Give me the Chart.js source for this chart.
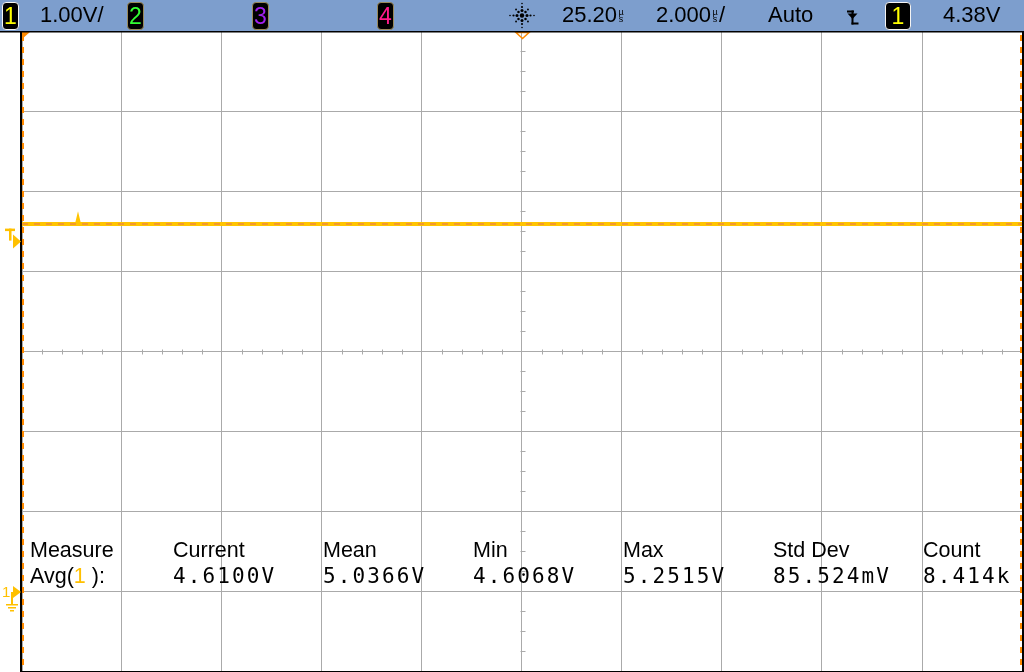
<!DOCTYPE html>
<html>
<head>
<meta charset="utf-8">
<script src="https://cdn.jsdelivr.net/npm/chart.js@4"></script>
<style>
  html, body { margin:0; padding:0; background:#fff; }
  #wrap { position:relative; width:1024px; height:672px; overflow:hidden; }
  canvas { position:absolute; left:0; top:0; }
  .t { position:absolute; white-space:pre; color:#000; }
  .bar { font-family:"Liberation Sans", Arial, sans-serif; font-size:22px; line-height:22px; top:4px; }
  .lab { font-family:"Liberation Sans", Arial, sans-serif; font-size:21.5px; line-height:21px; top:540px; }
  .val { font-family:"DejaVu Sans Mono", monospace; font-size:21px; line-height:21px; top:566px; letter-spacing:2.1px; }
  .box { position:absolute; top:2px; height:26px; background:#000; border-radius:4px; text-align:center;
         font-family:"Liberation Sans", Arial, sans-serif; font-size:23px; line-height:27px; }
  .us { position:absolute; font-family:"Liberation Sans", Arial, sans-serif; font-size:9px; line-height:8px; color:#000; text-align:center; width:8px; }
  .mk { position:absolute; font-family:"Liberation Sans", Arial, sans-serif; font-size:15px; line-height:15px; color:#ffc000; }
</style>
</head>
<body>
<div id="wrap">
  <canvas id="c" width="1024" height="672"></canvas>
</div>
<script>
// ---- data ----
const TIME_US = [15.2, 16.30, 16.32, 16.34, 35.2];       // time (µs)
const CH1_V   = [4.5875, 4.5875, 4.64, 4.5875, 4.5875];  // channel 1 voltage (V)
const X_GRID_US = [15.2, 17.2, 19.2, 21.2, 23.2, 25.2, 27.2, 29.2, 31.2, 33.2, 35.2];
const Y_GRID_V = [-1, 0, 1, 2, 3, 4, 5, 6, 7];
const TRIG_LEVEL_V = 4.38;
const GROUND_V = 0;
const CENTER_TIME_US = 25.2;
const CENTER_V = 3;
const MEAS_LABELS = ["Current", "Mean", "Min", "Max", "Std Dev", "Count"];
const MEAS_VALUES = ["4.6100V", "5.0366V", "4.6068V", "5.2515V", "85.524mV", "8.414k"];
const BAR_SCALE = "1.00V/";
const BAR_DELAY = "25.20";
const BAR_TIMEDIV = "2.000";
const BAR_MODE = "Auto";
const BAR_TRIG = "4.38V";

// ---- html text ----
const wrap = document.getElementById('wrap');
function addDiv(cls, txt, x, y, color, extra) {
  const d = document.createElement('div');
  d.className = cls;
  d.textContent = txt;
  d.style.left = x + 'px';
  if (y !== null) d.style.top = y + 'px';
  if (color) d.style.color = color;
  if (extra) Object.assign(d.style, extra);
  wrap.appendChild(d);
  return d;
}

// ---- chart ----
const ctx = document.getElementById('c').getContext('2d');

const decor = {
  id: 'decor',
  beforeDraw(chart) {
    const c = chart.ctx;
    c.save();
    c.fillStyle = '#fff';
    c.fillRect(0, 0, chart.width, chart.height);
    c.restore();
  },
  afterDatasetsDraw(chart) {
    const c = chart.ctx;
    const xs = chart.scales.x, ys = chart.scales.y;
    const ca = chart.chartArea;
    c.save();
    // center axis minor ticks
    c.strokeStyle = '#aaaaaa';
    c.lineWidth = 1;
    const yc = Math.round(ys.getPixelForValue(CENTER_V)) + 0.5;
    const xc = Math.round(xs.getPixelForValue(CENTER_TIME_US)) + 0.5;
    c.beginPath();
    for (let i = 0; i < X_GRID_US.length - 1; i++) {
      for (let k = 1; k < 5; k++) {
        const t = X_GRID_US[i] + k * 0.4;
        const px = Math.round(xs.getPixelForValue(t)) + 0.5;
        c.moveTo(px, yc - 2); c.lineTo(px, yc + 3);
      }
    }
    for (let i = 0; i < Y_GRID_V.length - 1; i++) {
      for (let k = 1; k < 4; k++) {
        const v = Y_GRID_V[i] + k * 0.25;
        const py = Math.round(ys.getPixelForValue(v)) + 0.5;
        c.moveTo(xc - 2, py); c.lineTo(xc + 3, py);
      }
    }
    c.stroke();

    // orange dashed edge lines
    c.strokeStyle = '#ff8a00';
    c.lineWidth = 2;
    c.setLineDash([6, 6]);
    c.beginPath();
    c.moveTo(ca.left + 1, ca.top + 4); c.lineTo(ca.left + 1, ca.bottom);
    c.moveTo(ca.right - 1, ca.top + 4); c.lineTo(ca.right - 1, ca.bottom);
    c.stroke();
    c.setLineDash([]);

    // black frame
    c.strokeStyle = '#000';
    c.lineWidth = 2;
    c.beginPath();
    c.moveTo(ca.left - 1, ca.top); c.lineTo(ca.left - 1, ca.bottom + 1);
    c.lineTo(ca.right + 1, ca.bottom + 1); c.lineTo(ca.right + 1, ca.top);
    c.stroke();

    // top-left orange corner
    c.fillStyle = '#ff8a00';
    c.beginPath();
    c.moveTo(ca.left, ca.top + 1); c.lineTo(ca.left + 8, ca.top + 1); c.lineTo(ca.left, ca.top + 8);
    c.closePath(); c.fill();

    // trigger position marker (outlined down triangle)
    c.strokeStyle = '#ff8a00';
    c.lineWidth = 1.5;
    c.beginPath();
    c.moveTo(xc - 6.5, ca.top + 1.5); c.lineTo(xc + 6.5, ca.top + 1.5); c.lineTo(xc, ca.top + 7.5);
    c.closePath(); c.stroke();

    // trigger level marker T
    const yT = ys.getPixelForValue(TRIG_LEVEL_V);
    c.fillStyle = '#ffc000';
    c.fillRect(5, yT - 12, 10, 2.5);
    c.fillRect(9, yT - 12, 2.5, 12);
    c.beginPath();
    c.moveTo(13, yT - 6); c.lineTo(21, yT + 1); c.lineTo(13, yT + 8);
    c.closePath(); c.fill();

    // ground marker 1
    const yG = ys.getPixelForValue(GROUND_V) + 1;
    c.beginPath();
    c.moveTo(13, yG - 6); c.lineTo(21, yG); c.lineTo(13, yG + 6);
    c.closePath(); c.fill();
    c.fillRect(11, yG, 2, 12);
    c.fillRect(6, yG + 12, 12, 1.5);
    c.fillRect(8, yG + 15, 8, 1.5);
    c.fillRect(10, yG + 18, 4, 1.5);
    c.restore();
  },
  afterDraw(chart) {
    const c = chart.ctx;
    c.save();
    // top bar
    c.fillStyle = '#7d9ecd';
    c.fillRect(0, 0, chart.width, 31);
    c.fillStyle = '#000';
    c.fillRect(0, 31, chart.width, 1.5);
    // agilent icon
    const cx = 522, cy = 15.5;
    c.fillStyle = '#000';
    c.beginPath(); c.arc(cx, cy, 2.2, 0, Math.PI * 2); c.fill();
    const dirs = [[1,0],[-1,0],[0,1],[0,-1],[0.7,0.7],[-0.7,0.7],[0.7,-0.7],[-0.7,-0.7]];
    dirs.forEach(([dx, dy], i) => {
      const big = i < 4;
      [[5, 1.5], [8.5, 1.1], [12, 0.8]].forEach(([r, s], j) => {
        if (!big && j === 2) return;
        c.beginPath(); c.arc(cx + dx * r, cy + dy * r, big ? s : s * 0.85, 0, Math.PI * 2); c.fill();
      });
    });
    // trigger slope symbol
    c.fillRect(847, 10.5, 7, 2);
    c.fillRect(851.5, 10.5, 2, 14);
    c.fillRect(851.5, 22.5, 7, 2);
    c.beginPath();
    c.moveTo(847.5, 13.5); c.lineTo(857.5, 13.5); c.lineTo(852.5, 19);
    c.closePath(); c.fill();
    c.restore();
  }
};

new Chart(ctx, {
  type: 'line',
  data: {
    datasets: [
      {
        data: TIME_US.map((t, i) => ({ x: t, y: CH1_V[i] })),
        borderColor: '#ffc400',
        borderWidth: 4,
        pointRadius: 0,
        tension: 0,
        order: 2
      },
      {
        data: TIME_US.map((t, i) => ({ x: t, y: i === 2 ? CH1_V[0] : CH1_V[i] })),
        borderColor: '#f08a3c',
        borderWidth: 1.5,
        borderDash: [6, 6],
        pointRadius: 0,
        tension: 0,
        order: 1
      }
    ]
  },
  options: {
    responsive: false,
    animation: false,
    devicePixelRatio: 1,
    layout: { padding: { left: 22, top: 31, right: 2, bottom: 1 } },
    plugins: { legend: { display: false }, tooltip: { enabled: false }, title: { display: false } },
    scales: {
      x: {
        type: 'linear',
        min: X_GRID_US[0],
        max: X_GRID_US[X_GRID_US.length - 1],
        afterBuildTicks: (s) => { s.ticks = X_GRID_US.map(v => ({ value: v })); },
        ticks: { display: false },
        grid: { color: '#aaaaaa', lineWidth: 1, drawTicks: false },
        border: { display: false }
      },
      y: {
        type: 'linear',
        min: Y_GRID_V[0],
        max: Y_GRID_V[Y_GRID_V.length - 1],
        afterBuildTicks: (s) => { s.ticks = Y_GRID_V.map(v => ({ value: v })); },
        ticks: { display: false },
        grid: { color: '#aaaaaa', lineWidth: 1, drawTicks: false },
        border: { display: false }
      }
    }
  },
  plugins: [decor]
});

// ---- top bar boxes and text ----
function box(x, w, txt, color, border) {
  const d = addDiv('box', txt, x, null, color);
  d.style.width = w + 'px';
  d.style.border = '1.5px solid ' + border;
}
box(2, 15, '1', '#ffff00', '#f4f4f4');
box(127, 15, '2', '#33ff33', '#9a8a5a');
box(252, 15, '3', '#a020f0', '#9a8a5a');
box(377, 15, '4', '#ff1a8c', '#9a8a5a');
box(885, 24, '1', '#ffff00', '#f4f4f4');

addDiv('t bar', BAR_SCALE, 40, null);
addDiv('t bar', BAR_DELAY, 562, null);
addDiv('t bar', BAR_TIMEDIV, 656, null);
addDiv('t bar', '/', 719, null);
addDiv('t bar', BAR_MODE, 768, null);
addDiv('t bar', BAR_TRIG, 943, null);
function us(x) {
  addDiv('us', 'µ', x, 8);
  addDiv('us', 's', x, 15);
}
us(617); us(711);

// ground reference marker label
addDiv('mk', '1', 2, 584);

// ---- measurement text ----
addDiv('t lab', 'Measure', 30, null);
const avg = addDiv('t val', '', 30, null, null, { fontFamily: '"Liberation Sans", Arial, sans-serif', fontSize: '21.5px', letterSpacing: '0px' });
avg.innerHTML = 'Avg(<span style="color:#ffc000">1</span> ):';
const MEAS_X = [173, 323, 473, 623, 773, 923];
MEAS_LABELS.forEach((l, i) => addDiv('t lab', l, MEAS_X[i], null));
MEAS_VALUES.forEach((v, i) => addDiv('t val', v, MEAS_X[i], null));
</script>
</body>
</html>
